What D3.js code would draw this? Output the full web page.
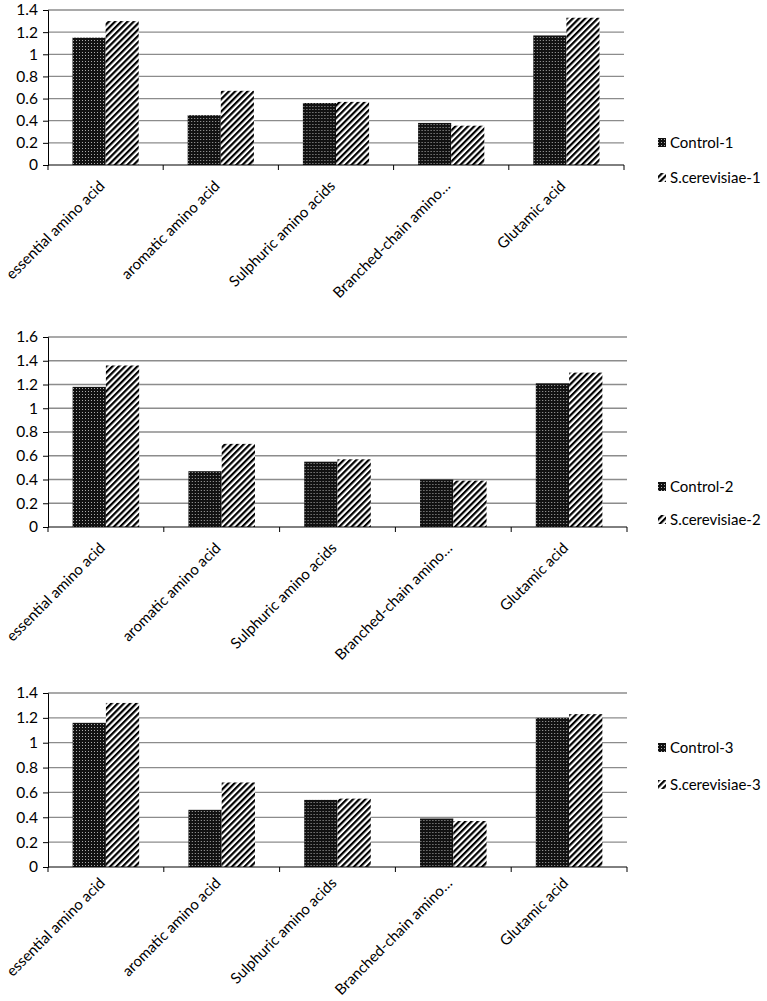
<!DOCTYPE html>
<html>
<head>
<meta charset="utf-8">
<script src="https://cdn.jsdelivr.net/npm/d3@7"></script>
<style>
  body { margin: 0; background: #fff; }
  svg { display: block; font-family: "Lato", "Liberation Sans", sans-serif; }
</style>
</head>
<body>
<div id="chart"></div>
<script>
// DATA
const categories = ["essential amino acid", "aromatic amino acid", "Sulphuric amino acids", "Branched-chain amino\u2026", "Glutamic acid"];
const seriesKeys = ["control", "treated"];

const control1 = [1.15, 0.45, 0.56, 0.38, 1.17];
const treated1 = [1.30, 0.67, 0.57, 0.355, 1.33];
const control2 = [1.18, 0.47, 0.55, 0.40, 1.21];
const treated2 = [1.36, 0.70, 0.57, 0.39, 1.30];
const control3 = [1.16, 0.46, 0.54, 0.39, 1.20];
const treated3 = [1.32, 0.68, 0.55, 0.37, 1.23];

const yMax = [1.4, 1.6, 1.4];
const legendNames = [["Control-1", "S.cerevisiae-1"], ["Control-2", "S.cerevisiae-2"], ["Control-3", "S.cerevisiae-3"]];

// LAYOUT
const width = 767;
const height = 1001;
const panels = [
    {control: control1, treated: treated1, top: 10, bottom: 165, left: 48, right: 624, legendY: [143, 178], labelDy: 22},
    {control: control2, treated: treated2, top: 337, bottom: 527, left: 48, right: 627, legendY: [487, 520], labelDy: 22},
    {control: control3, treated: treated3, top: 693, bottom: 867, left: 48, right: 627, legendY: [748, 785], labelDy: 17}
];

const svg = d3.select("#chart")
    .append("svg")
    .attr("width", width)
    .attr("height", height);

// patterns: dark dotted fill and diagonal hatching
const defs = svg.append("defs");

const dots = defs.append("pattern")
    .attr("id", "dots")
    .attr("patternUnits", "userSpaceOnUse")
    .attr("width", 3)
    .attr("height", 3);
dots.append("rect").attr("width", 3).attr("height", 3).attr("fill", "#111");
dots.append("rect").attr("x", 1).attr("y", 1).attr("width", 1).attr("height", 1).attr("fill", "#aaa");

const hatch = defs.append("pattern")
    .attr("id", "hatch")
    .attr("patternUnits", "userSpaceOnUse")
    .attr("width", 4.4)
    .attr("height", 4.4)
    .attr("patternTransform", "rotate(45)");
hatch.append("rect").attr("width", 4.4).attr("height", 4.4).attr("fill", "#fff");
hatch.append("rect").attr("width", 2.2).attr("height", 4.4).attr("fill", "#000");

const fills = {control: "url(#dots)", treated: "url(#hatch)"};

panels.forEach(function(p, i) {
    const g = svg.append("g");

    const x = d3.scaleBand()
        .domain(categories)
        .range([p.left, p.right])
        .padding(0);

    const x1 = d3.scaleBand()
        .domain(seriesKeys)
        .range([0, x.bandwidth()])
        .paddingInner(0)
        .paddingOuter(0.74);

    const y = d3.scaleLinear()
        .domain([0, yMax[i]])
        .range([p.bottom, p.top]);

    const ticks = d3.range(0, yMax[i] + 0.001, 0.2);

    // gridlines
    g.append("g")
        .selectAll("line")
        .data(ticks.slice(1))
        .join("line")
        .attr("x1", p.left)
        .attr("x2", p.right)
        .attr("y1", d => y(d))
        .attr("y2", d => y(d))
        .attr("stroke", "#8c8c8c")
        .attr("stroke-width", 1.3);

    // bars
    const groups = g.append("g")
        .selectAll("g")
        .data(categories)
        .join("g")
        .attr("transform", d => `translate(${x(d)},0)`);

    groups.selectAll("rect")
        .data((d, j) => seriesKeys.map(k => ({key: k, value: p[k][j]})))
        .join("rect")
        .attr("x", d => x1(d.key))
        .attr("width", x1.bandwidth())
        .attr("y", d => y(d.value))
        .attr("height", d => p.bottom - y(d.value))
        .attr("fill", d => fills[d.key]);

    // y axis
    const yAxis = g.append("g")
        .attr("transform", `translate(${p.left},0)`)
        .call(d3.axisLeft(y).tickValues(ticks).tickSize(5).tickPadding(5)
            .tickFormat(d => d3.format("~g")(+d.toFixed(1))));
    yAxis.select(".domain").attr("stroke", "#000");
    yAxis.selectAll(".tick line").attr("stroke", "#000");
    yAxis.selectAll("text").attr("font-size", 15.5).attr("fill", "#000")
        .attr("font-family", "Lato, sans-serif");

    // x axis
    const xAxis = g.append("g")
        .attr("transform", `translate(0,${p.bottom})`);
    xAxis.append("line")
        .attr("x1", p.left).attr("x2", p.right)
        .attr("stroke", "#000");
    xAxis.selectAll(".xtick")
        .data(categories.map(c => x(c)).concat([p.right]))
        .join("line")
        .attr("class", "xtick")
        .attr("x1", d => d).attr("x2", d => d)
        .attr("y1", 0).attr("y2", 5)
        .attr("stroke", "#000");
    xAxis.selectAll("text")
        .data(categories)
        .join("text")
        .attr("transform", d => `translate(${x(d) + x.bandwidth() / 2},${p.labelDy}) rotate(-45)`)
        .attr("text-anchor", "end")
        .attr("font-size", 15)
        .attr("fill", "#000")
        .text(d => d);

    // legend
    const legend = g.append("g");
    seriesKeys.forEach(function(k, j) {
        legend.append("rect")
            .attr("x", 658)
            .attr("y", p.legendY[j] - 5)
            .attr("width", 8)
            .attr("height", 9)
            .attr("fill", fills[k]);
        legend.append("text")
            .attr("x", 670)
            .attr("y", p.legendY[j] + 5)
            .attr("font-size", 15)
            .attr("fill", "#000")
            .text(legendNames[i][j]);
    });
});
</script>
</body>
</html>
